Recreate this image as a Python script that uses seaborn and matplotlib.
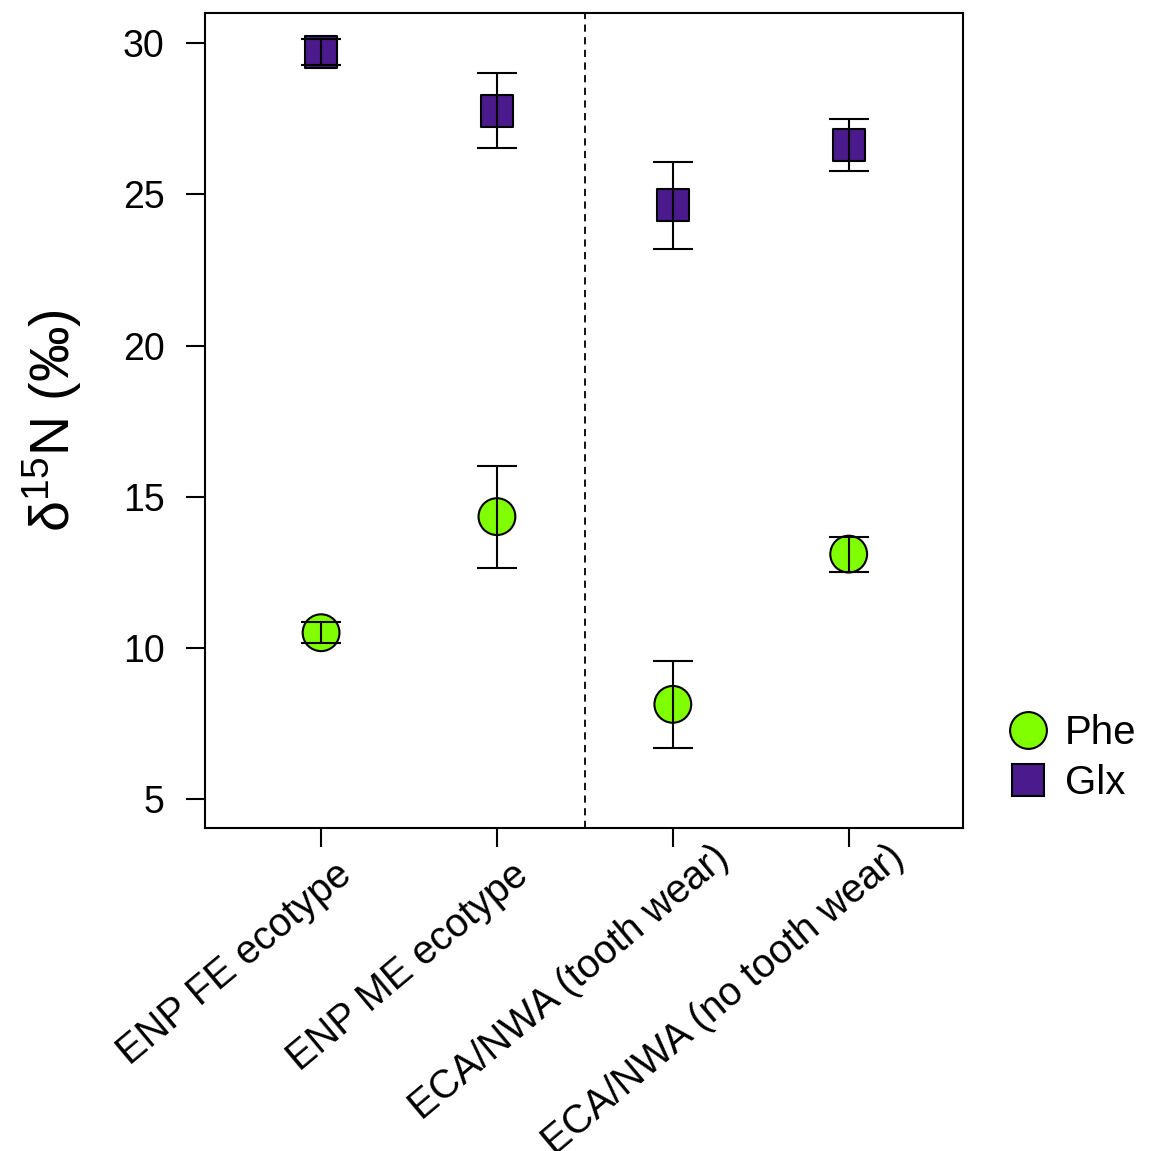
"""
Grafico de d15N (Phe y Glx) por grupo, con barras de error.
"""
import numpy as np
import pandas as pd
import matplotlib
matplotlib.use('Agg')
import matplotlib.pyplot as plt
import matplotlib.transforms as mtransforms
from matplotlib.lines import Line2D
import seaborn as sns

# Datos
grupos = ['ENP FE ecotype', 'ENP ME ecotype', 'ECA/NWA (tooth wear)', 'ECA/NWA (no tooth wear)']
phe_media = [10.50, 14.34, 8.13, 13.10]
phe_inf = [10.15, 12.63, 6.69, 12.52]
phe_sup = [10.85, 16.02, 9.56, 13.66]
glx_media = [29.70, 27.77, 24.64, 26.63]
glx_inf = [29.28, 26.53, 23.20, 25.78]
glx_sup = [30.14, 29.03, 26.08, 27.50]
aminoacidos = ['Phe', 'Glx']
colores = {'Phe': '#7FFF00', 'Glx': '#4B1A8C'}

sns.set_style('ticks')
plt.rcParams['font.family'] = ['Liberation Sans', 'DejaVu Sans']
plt.rcParams['mathtext.fontset'] = 'custom'
plt.rcParams['mathtext.rm'] = 'Liberation Sans'
plt.rcParams['mathtext.it'] = 'Liberation Sans:italic'
for clave in ['text.color', 'axes.labelcolor', 'xtick.color', 'ytick.color']:
    plt.rcParams[clave] = 'black'

pos = np.arange(1, len(grupos) + 1)
df = pd.DataFrame({
    'pos': np.concatenate([pos, pos]),
    'media': phe_media + glx_media,
    'inf': phe_inf + glx_inf,
    'sup': phe_sup + glx_sup,
    'aa': ['Phe'] * len(grupos) + ['Glx'] * len(grupos),
})

fig = plt.figure(figsize=(11.52, 11.51), dpi=100)
ax = fig.add_axes([205 / 1152, 1 - 828 / 1151, (963 - 205) / 1152, (828 - 13) / 1151])

sns.scatterplot(
    data=df, x='pos', y='media', hue='aa', style='aa', size='aa',
    palette=colores, markers={'Phe': 'o', 'Glx': 's'},
    sizes={'Phe': 26.5 ** 2, 'Glx': 23 ** 2},
    edgecolor='black', linewidth=1.5, legend=False, zorder=3, ax=ax
)

# Barras de error encima de los puntos
for aa in aminoacidos:
    sub = df[df['aa'] == aa]
    ax.errorbar(
        sub['pos'], sub['media'],
        yerr=[sub['media'] - sub['inf'], sub['sup'] - sub['media']],
        fmt='none', ecolor='black', elinewidth=1.5, capsize=14.5,
        capthick=1.5, zorder=4
    )

ax.axvline(2.5, color='black', linestyle=(0, (4, 3)), linewidth=1.3, zorder=1)

ax.set_xlim(0.34, 4.65)
ax.set_ylim(4.04, 31.0)
ax.set_yticks([5, 10, 15, 20, 25, 30])
ax.set_xticks(pos)
ax.tick_params(axis='both', length=14, width=1.5, labelsize=27, color='black')
ax.tick_params(axis='y', pad=15)
ax.tick_params(axis='x', pad=0)
ax.set_xticklabels(grupos, rotation=40, ha='right', va='baseline',
                   rotation_mode='anchor')

# Mover las etiquetas del eje x (fin de la linea base, px desde la marca)
desplaz_px = [(33, 50), (33, 50), (58, 33), (58, 33)]
for lab, (dx, dy) in zip(ax.get_xticklabels(), desplaz_px):
    lab.set_fontsize(28.5)
    desplaz = mtransforms.ScaledTranslation(dx / 100, -dy / 100, fig.dpi_scale_trans)
    lab.set_transform(ax.get_xaxis_transform() + desplaz)
    lab.set_position((lab.get_position()[0], 0))

for lado in ax.spines.values():
    lado.set_linewidth(1.5)
    lado.set_color('black')

ax.set_xlabel('')
ax.set_ylabel(r'$\mathrm{\delta^{15}}$N (‰)', fontsize=40)
ax.yaxis.set_label_coords(-0.16, 0.5)

# Leyenda fuera del area del grafico
manejadores = [
    Line2D([], [], marker='o', linestyle='none', markersize=26.5,
           markerfacecolor=colores['Phe'], markeredgecolor='black', markeredgewidth=1.5),
    Line2D([], [], marker='s', linestyle='none', markersize=23,
           markerfacecolor=colores['Glx'], markeredgecolor='black', markeredgewidth=1.5),
]
fig.legend(manejadores, aminoacidos, loc='center left',
           bbox_to_anchor=(984 / 1152, 1 - 758 / 1151), frameon=False,
           fontsize=29, handletextpad=0.3, labelspacing=0.3, borderpad=0,
           handlelength=1.2)

plt.savefig('out.png', dpi=100)
